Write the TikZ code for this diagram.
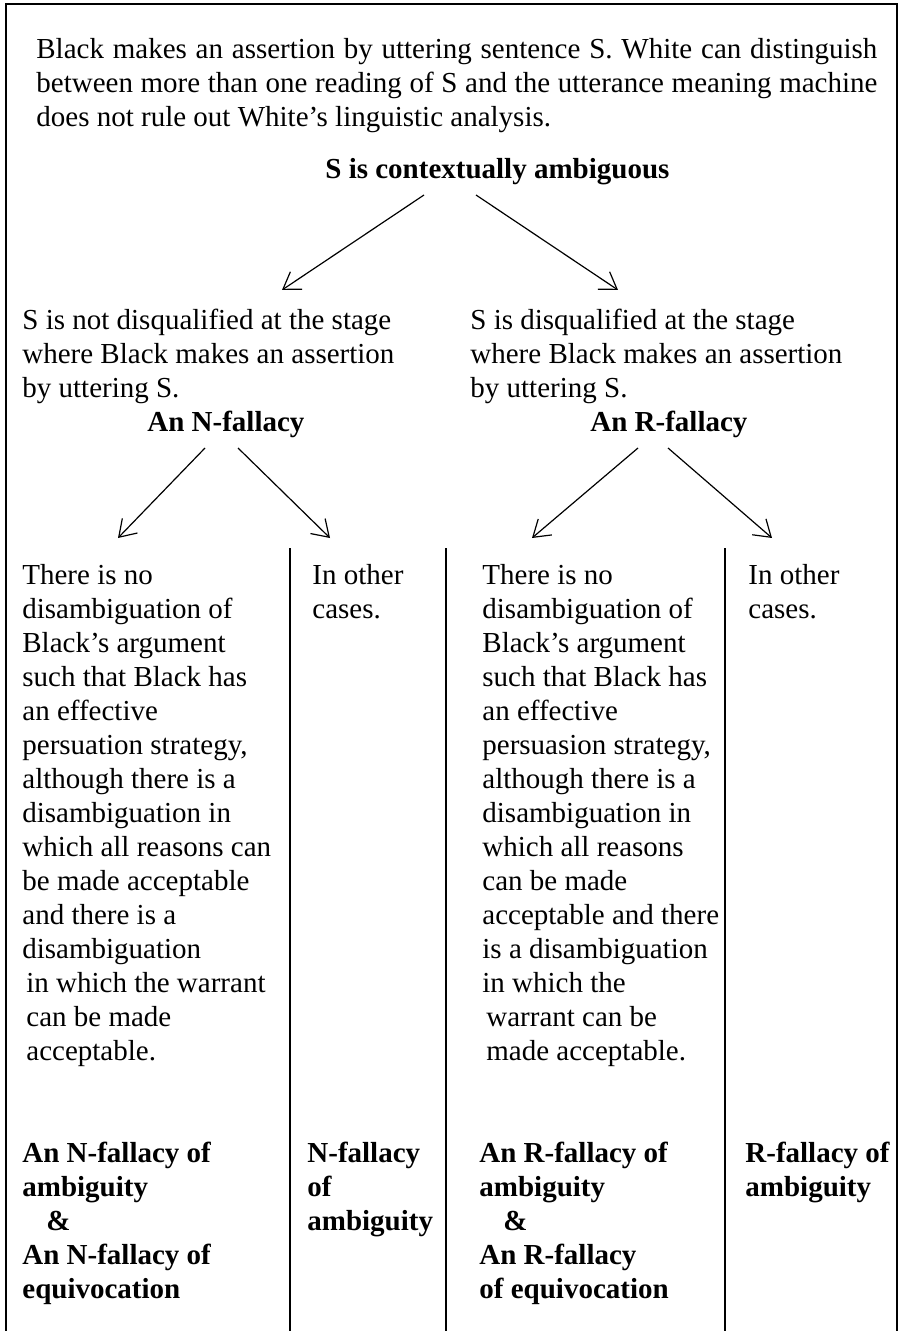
\documentclass[tikz,border=0pt]{standalone}
\usepackage{fontspec}
\setmainfont{Liberation Serif}
\usetikzlibrary{arrows.meta}

\begin{document}
\begin{tikzpicture}[x = 0.5pt, y = -0.5pt,
	> = {Straight Barb[length = 8pt, width = 10.5pt]},
	every node/.style = {inner sep = 0, anchor = north west, font = \fontsize{14.5}{17}\selectfont},
	rule/.style = {line width = 0.8pt},
	arr/.style = {->, line width = 0.6pt},
	cell/.style = {align = left},
	head/.style = {align = left, font = \fontsize{14.5}{17}\selectfont\bfseries}]

	\useasboundingbox (0, 0) rectangle (899, 1331);

	% Frame + column rules

	\draw [rule] (6, 1331) -- (6, 4) -- (897, 4) -- (897, 1331);

	\foreach \x in {290, 446, 725}
		\draw [rule] (\x, 548) -- (\x, 1331);

	% Top text

	\node (intro) [text width = 420.5pt, align = justify] at (36, 34)
		{\strut Black makes an assertion by uttering sentence S. White can distinguish\linebreak
		between more than one reading of S and the utterance meaning machine\linebreak
		does not rule out White's linguistic analysis.};

	\node (ctx) [head] at (325, 154) {\strut S is contextually ambiguous};

	% Second level

	\node (notdq) [cell] at (22, 305) {\strut S is not disqualified at the stage\\
		where Black makes an assertion\\ by uttering S.};
	\node (dq) [cell] at (470, 305) {\strut S is disqualified at the stage\\
		where Black makes an assertion\\ by uttering S.};

	\node (nfal) [head] at (147, 407) {\strut An N-fallacy};
	\node (rfal) [head] at (590, 407) {\strut An R-fallacy};

	% Arrows

	\coordinate (ctx-l) at (424, 195);
	\coordinate (ctx-r) at (476, 195);
	\coordinate (notdq-tip) at (282, 290);
	\coordinate (dq-tip) at (618, 290);

	\coordinate (nfal-l) at (205, 448);
	\coordinate (nfal-r) at (238, 448);
	\coordinate (rfal-l) at (638, 448);
	\coordinate (rfal-r) at (668, 448);
	\coordinate (ncase-tip) at (118, 538);
	\coordinate (nother-tip) at (330, 538);
	\coordinate (rcase-tip) at (532, 538);
	\coordinate (rother-tip) at (772, 538);

	\draw [arr] (ctx-l) -- (notdq-tip);
	\draw [arr] (ctx-r) -- (dq-tip);
	\draw [arr] (nfal-l) -- (ncase-tip);
	\draw [arr] (nfal-r) -- (nother-tip);
	\draw [arr] (rfal-l) -- (rcase-tip);
	\draw [arr] (rfal-r) -- (rother-tip);

	% Columns

	\node (ncase) [cell] at (22, 560) {\strut There is no\\ disambiguation of\\
		Black's argument\\ such that Black has\\ an effective\\ persuation strategy,\\
		although there is a\\ disambiguation in\\ which all reasons can\\
		be made acceptable\\ and there is a\\ disambiguation\\
		\hspace*{2pt}in which the warrant\\ \hspace*{2pt}can be made\\ \hspace*{2pt}acceptable.};
	\node (nother) [cell] at (312, 560) {\strut In other\\ cases.};
	\node (rcase) [cell] at (482, 560) {\strut There is no\\ disambiguation of\\
		Black's argument\\ such that Black has\\ an effective\\ persuasion strategy,\\
		although there is a\\ disambiguation in\\ which all reasons\\
		can be made\\ acceptable and there\\ is a disambiguation\\
		in which the\\ \hspace*{2pt}warrant can be\\ \hspace*{2pt}made acceptable.};
	\node (rother) [cell] at (748, 560) {\strut In other\\ cases.};

	% Verdicts

	\node (nboth) [head] at (22, 1138) {\strut An N-fallacy of\\ ambiguity\\
		\hspace*{12pt}\&\\ An N-fallacy of\\ equivocation};
	\node (nonly) [head] at (307, 1138) {\strut N-fallacy\\ of\\ ambiguity};
	\node (rboth) [head] at (479, 1138) {\strut An R-fallacy of\\ ambiguity\\
		\hspace*{12pt}\&\\ An R-fallacy\\ of equivocation};
	\node (ronly) [head] at (745, 1138) {\strut R-fallacy of\\ ambiguity};

\end{tikzpicture}
\end{document}
